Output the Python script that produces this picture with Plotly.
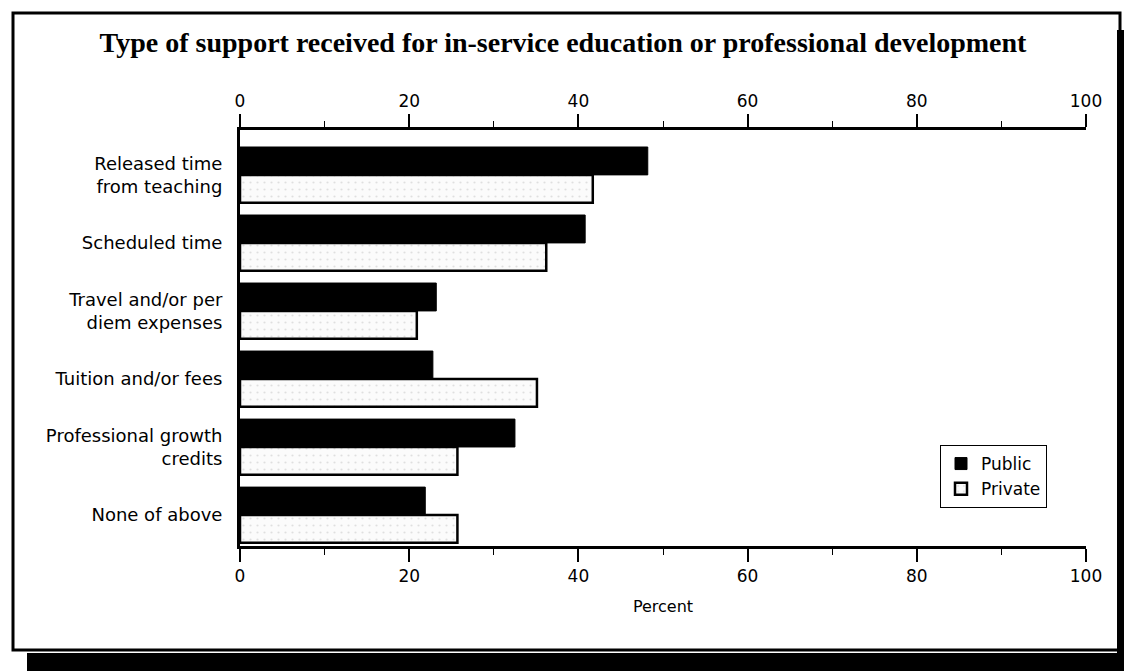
import plotly.graph_objects as go

categories = ["Released time<br>from teaching", "Scheduled time", "Travel and/or per<br>diem expenses",
              "Tuition and/or fees", "Professional growth<br>credits", "None of above"]
public = [48.2, 40.8, 23.2, 22.8, 32.5, 21.9]
private = [41.7, 36.2, 20.9, 35.1, 25.7, 25.7]
tick_vals = [0, 20, 40, 60, 80, 100]
tick_text = ["0", "20", "40", "60", "80", "100"]

OFF = 8  # page body margin
SW, SH = 1132, 671
W, H = SW - OFF, SH - OFF
# plot area in screen pixels
L, R, T, B = 240, 1086, 130, 546


def px(x):
    return (x - L) / (R - L)


def py(y):
    return (B - y) / (B - T)


SANS = "DejaVu Sans, Arial"

fig = go.Figure()
fig.add_trace(go.Bar(y=categories, x=public, name="Public", orientation="h",
                     marker=dict(color="black", line=dict(color="black", width=1))))
fig.add_trace(go.Bar(y=categories, x=private, name="Private", orientation="h",
                     marker=dict(color="#fbfbfb", line=dict(color="black", width=2.5),
                                 pattern=dict(shape=".", fgcolor="#c4c4c4", bgcolor="#fbfbfb",
                                              size=7, solidity=0.08))))
fig.add_trace(go.Scatter(x=[0, 100], y=[categories[0], categories[0]], xaxis="x2",
                         mode="markers", marker=dict(opacity=0), showlegend=False, hoverinfo="skip"))

axis_common = dict(range=[0, 100], tickvals=tick_vals, ticktext=tick_text, ticks="outside",
                   ticklen=13, tickwidth=1.5, tickcolor="black", showline=True, linecolor="black",
                   linewidth=3, showgrid=False, zeroline=False,
                   tickfont=dict(family=SANS, size=17, color="black"),
                   minor=dict(dtick=10, ticks="outside", ticklen=6, tickcolor="black", tickwidth=1))

fig.update_layout(
    width=W, height=H,
    margin=dict(l=L - OFF, r=SW - R, t=T - OFF, b=SH - B),
    paper_bgcolor="white", plot_bgcolor="white",
    barmode="group", bargap=0.18, bargroupgap=0.0,
    title=dict(text="<b>Type of support received for in-service education or professional development</b>",
               x=(563 - OFF) / W, xanchor="center", y=1 - (42 - OFF) / H, yanchor="middle",
               font=dict(family="Liberation Serif, Times New Roman", size=28, color="black")),
    xaxis=dict(**axis_common, title=dict(text="Percent", standoff=16,
                                         font=dict(family=SANS, size=16, color="black"))),
    xaxis2=dict(**axis_common, overlaying="x", side="top"),
    yaxis=dict(range=[5.456, -0.66], showline=True, linecolor="black", linewidth=3, ticks="",
               showgrid=False, zeroline=False, ticklabelstandoff=11,
               tickfont=dict(family=SANS, size=18, color="black")),
    legend=dict(x=px(940), y=py(445), xanchor="left", yanchor="top",
                bgcolor="white", bordercolor="black", borderwidth=1,
                font=dict(family=SANS, size=17, color="black"),
                tracegroupgap=0, itemwidth=30),
    showlegend=True,
)

shapes = [
    # outer frame
    dict(type="rect", xref="paper", yref="paper", x0=px(13), x1=px(1120), y0=py(650), y1=py(13),
         line=dict(color="black", width=3), fillcolor="rgba(0,0,0,0)", layer="below"),
    # bottom shadow
    dict(type="rect", xref="paper", yref="paper", x0=px(27), x1=px(1140), y0=py(680), y1=py(653),
         line=dict(width=0), fillcolor="black"),
    # right shadow
    dict(type="rect", xref="paper", yref="paper", x0=px(1117), x1=px(1140), y0=py(680), y1=py(30),
         line=dict(width=0), fillcolor="black"),
]
fig.update_layout(shapes=shapes)

fig.write_html("out.html")
